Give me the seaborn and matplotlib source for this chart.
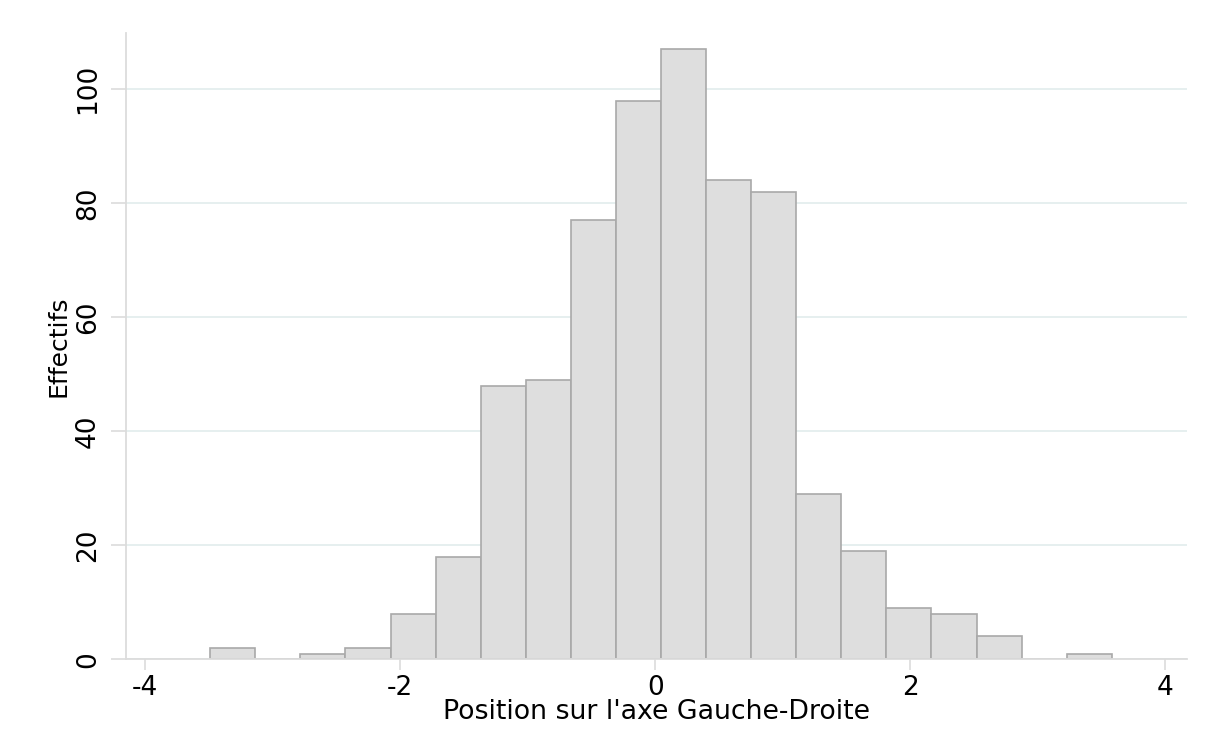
import numpy as np
import pandas as pd
import matplotlib.pyplot as plt
import seaborn as sns

# counts per bin (20 bins, left to right)
counts = [2, 0, 1, 2, 8, 18, 48, 49, 77, 98, 107, 84, 82, 29, 19, 9, 8, 4, 0, 1]
bin_start = -3.49
bin_width = 0.3535
x_ticks = [-4, -2, 0, 2, 4]
y_ticks = [0, 20, 40, 60, 80, 100]

edges = [float(e) for e in bin_start + bin_width * np.arange(len(counts) + 1)]
centers = [(a + b) / 2 for a, b in zip(edges[:-1], edges[1:])]
df = pd.DataFrame({'position': centers, 'n': counts})

sns.set_style('white')
plt.rcParams['font.family'] = ['DejaVu Sans']
plt.rcParams['axes.unicode_minus'] = False

fig = plt.figure(figsize=(12.14, 7.56), dpi=100)
ax = fig.add_axes([0.1038, 0.128, 0.8740, 0.828])

sns.histplot(data=df, x='position', weights='n', bins=edges, ax=ax,
             color='#dedede', edgecolor='#a9a9a9', linewidth=1.2, alpha=1)

ax.set_xlim(-4.15, 4.17)
ax.set_ylim(0, 109.8)
ax.set_xticks(x_ticks)
ax.set_yticks(y_ticks)
ax.set_xticklabels([str(v) for v in x_ticks])
ax.set_yticklabels([str(v) for v in y_ticks], rotation=90, va='center')

ax.yaxis.grid(True, color='#e4eeee', linewidth=1.3)
ax.set_axisbelow(True)

for s in ['top', 'right']:
    ax.spines[s].set_visible(False)
for s in ['left', 'bottom']:
    ax.spines[s].set_color('#dcdcdc')
    ax.spines[s].set_linewidth(1.3)

ax.tick_params(axis='x', bottom=True, length=8, width=1.2, color='#dcdcdc',
               labelsize=19, labelcolor='black', pad=3)
ax.tick_params(axis='y', left=True, length=11, width=1.2, color='#dcdcdc',
               labelsize=19, labelcolor='black', pad=7)

ax.set_xlabel("Position sur l'axe Gauche-Droite", fontsize=19.3, color='black', labelpad=-1)
ax.set_ylabel('Effectifs', fontsize=18, color='black', labelpad=3)

plt.savefig('out.png', dpi=100)
